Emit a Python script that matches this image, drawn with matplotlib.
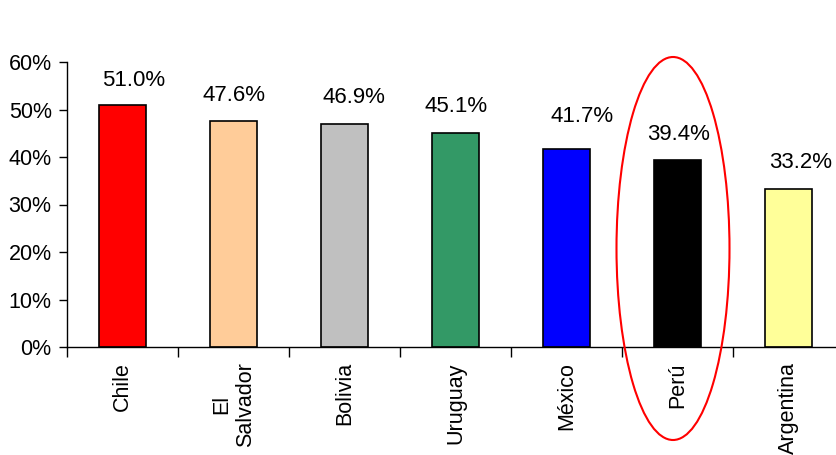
import matplotlib.pyplot as plt
from matplotlib.patches import Ellipse
from matplotlib.ticker import FixedLocator, PercentFormatter

plt.rcParams['font.family'] = ['Liberation Sans', 'DejaVu Sans']

paises = ["Chile", "El\nSalvador", "Bolivia", "Uruguay", "México", "Perú", "Argentina"]
valores = [51.0, 47.6, 46.9, 45.1, 41.7, 39.4, 33.2]
colores = ["#FF0000", "#FFCC99", "#C0C0C0", "#339966", "#0000FF", "#000000", "#FFFF99"]

# desplazamiento manual de cada etiqueta de valor (px): (dx, separación sobre la barra)
desplaz = [(11, 19), (1, 20), (9, 21), (1, 21), (16, 27), (1, 20), (12, 21)]

fig = plt.figure(figsize=(8.37, 4.55), dpi=100)
# eje: x de 67 a ~844 px, y de 347 (0%) a 62 (60%)
ax = fig.add_axes([67 / 837, 1 - 347 / 455, 777 / 837, 285 / 455])

x = range(len(paises))
ax.bar(x, valores, width=0.42, color=colores, edgecolor="black", linewidth=1.2, zorder=2)

for xi, v, (dx, dy) in zip(x, valores, desplaz):
    ax.annotate(f"{v:.1f}%", (xi, v), xytext=(dx, dy), textcoords="offset pixels",
                ha="center", va="baseline", fontsize=16)

ax.set_xlim(-0.5, len(paises) - 0.5)
ax.set_ylim(0, 60)
ax.set_yticks(range(0, 61, 10))
ax.yaxis.set_major_formatter(PercentFormatter(decimals=0))
ax.tick_params(axis="y", length=6, width=1, labelsize=15.5, pad=5)

ax.set_xticks(list(x))
ax.set_xticklabels(paises, rotation=90, ha="center", va="top",
                   multialignment="center", fontsize=15.5)
ax.tick_params(axis="x", which="major", length=0, pad=11)
ax.xaxis.set_minor_locator(FixedLocator([i - 0.5 for i in range(len(paises) + 1)]))
ax.tick_params(axis="x", which="minor", length=7, width=1)

for s in ["top", "right"]:
    ax.spines[s].set_visible(False)
ax.spines["left"].set_linewidth(1)
ax.spines["bottom"].set_linewidth(1)

# óvalo rojo resaltando Perú
ov = Ellipse((673 / 837, 1 - 248.5 / 455), 113 / 837, 383 / 455,
             transform=fig.transFigure, fill=False, edgecolor="red", linewidth=1.5,
             clip_on=False)
fig.add_artist(ov)

fig.savefig("out.png", dpi=100)
